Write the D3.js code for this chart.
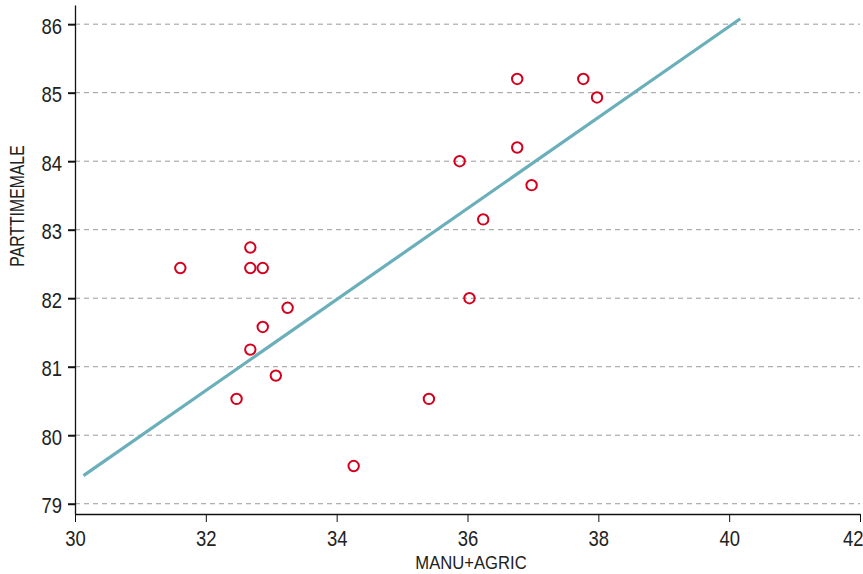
<!DOCTYPE html>
<html>
<head>
<meta charset="utf-8">
<script src="https://cdn.jsdelivr.net/npm/d3@7"></script>
<style>
  html, body { margin: 0; padding: 0; background: #fff; }
  svg { display: block; }
  text { font-family: "Liberation Sans", Arial, sans-serif; fill: #222; }
</style>
</head>
<body>
<svg id="chart" width="863" height="574"></svg>
<script>
// Observations: MANU+AGRIC vs PARTTIMEMALE
const manuAgric = [31.61, 32.68, 32.68, 32.87, 33.25, 32.87, 32.68, 33.07, 32.47, 34.26,
                   35.41, 36.03, 36.24, 35.88, 36.76, 36.76, 36.98, 37.77, 37.98];
const partTimeMale = [82.44, 82.74, 82.44, 82.44, 81.86, 81.58, 81.25, 80.87, 80.53, 79.55,
                      80.53, 82.00, 83.15, 84.00, 84.20, 85.20, 83.65, 85.20, 84.93];

// Fitted line end points
const fitX = [30.13, 40.17];
const fitY = [79.41, 86.08];

const xTicks = [30, 32, 34, 36, 38, 40, 42];
const yTicks = [79, 80, 81, 82, 83, 84, 85, 86];

const svg = d3.select("#chart");
const plotLeft = 75, plotRight = 860, plotTop = 5, plotBottom = 514;

const x = d3.scaleLinear().domain([30, 42]).range([plotLeft, plotRight]);
const y = d3.scaleLinear().domain([78.85, 86.28]).range([plotBottom, plotTop]);

// Condensed look for labels: horizontal squeeze
const tickSqueeze = 0.84;

// Dashed horizontal gridlines
svg.append("g")
  .selectAll("line")
  .data(yTicks)
  .join("line")
  .attr("x1", plotLeft).attr("x2", plotRight)
  .attr("y1", d => y(d)).attr("y2", d => y(d))
  .attr("stroke", "#9a9a9a")
  .attr("stroke-width", 1)
  .attr("stroke-dasharray", "5,4");

// X axis
const xAxis = svg.append("g")
  .attr("transform", `translate(0,${plotBottom})`)
  .call(d3.axisBottom(x).tickValues(xTicks).tickSize(8).tickPadding(8).tickSizeOuter(0));
xAxis.select(".domain").attr("stroke", "#111").attr("stroke-width", 1.3);
xAxis.selectAll(".tick line").attr("stroke", "#111").attr("stroke-width", 1);
xAxis.selectAll("text")
  .style("font-size", "22px")
  .attr("fill", "#222")
  .attr("transform", `scale(${tickSqueeze},1)`);
// keep the last label inside the frame
xAxis.selectAll(".tick text")
  .filter(d => d === xTicks[xTicks.length - 1])
  .attr("text-anchor", "end")
  .attr("x", 3 / tickSqueeze);

// Y axis
const yAxis = svg.append("g")
  .attr("transform", `translate(${plotLeft},0)`)
  .call(d3.axisLeft(y).tickValues(yTicks).tickSize(7).tickPadding(6).tickSizeOuter(0));
yAxis.select(".domain").attr("stroke", "#111").attr("stroke-width", 1.3);
yAxis.selectAll(".tick line").attr("stroke", "#111").attr("stroke-width", 2);
yAxis.selectAll("text")
  .style("font-size", "22px")
  .attr("fill", "#222")
  .attr("dy", "0.42em")
  .attr("x", -13 / tickSqueeze)
  .attr("transform", `scale(${tickSqueeze},1)`);

// Axis titles
svg.append("text")
  .attr("transform", "translate(471,569) scale(0.9,1)")
  .attr("text-anchor", "middle")
  .style("font-size", "18.5px")
  .text("MANU+AGRIC");

svg.append("text")
  .attr("transform", "translate(24,206) rotate(-90) scale(0.81,1)")
  .attr("text-anchor", "middle")
  .style("font-size", "19.5px")
  .text("PARTTIMEMALE");

// Fitted line
svg.append("line")
  .attr("x1", x(fitX[0])).attr("y1", y(fitY[0]))
  .attr("x2", x(fitX[1])).attr("y2", y(fitY[1]))
  .attr("stroke", "#6aafb9")
  .attr("stroke-width", 3.2);

// Points
svg.append("g")
  .selectAll("circle")
  .data(manuAgric.map((v, i) => [v, partTimeMale[i]]))
  .join("circle")
  .attr("cx", d => x(d[0]))
  .attr("cy", d => y(d[1]))
  .attr("r", 5.2)
  .attr("fill", "none")
  .attr("stroke", "#d3001e")
  .attr("stroke-width", 2);
</script>
</body>
</html>
